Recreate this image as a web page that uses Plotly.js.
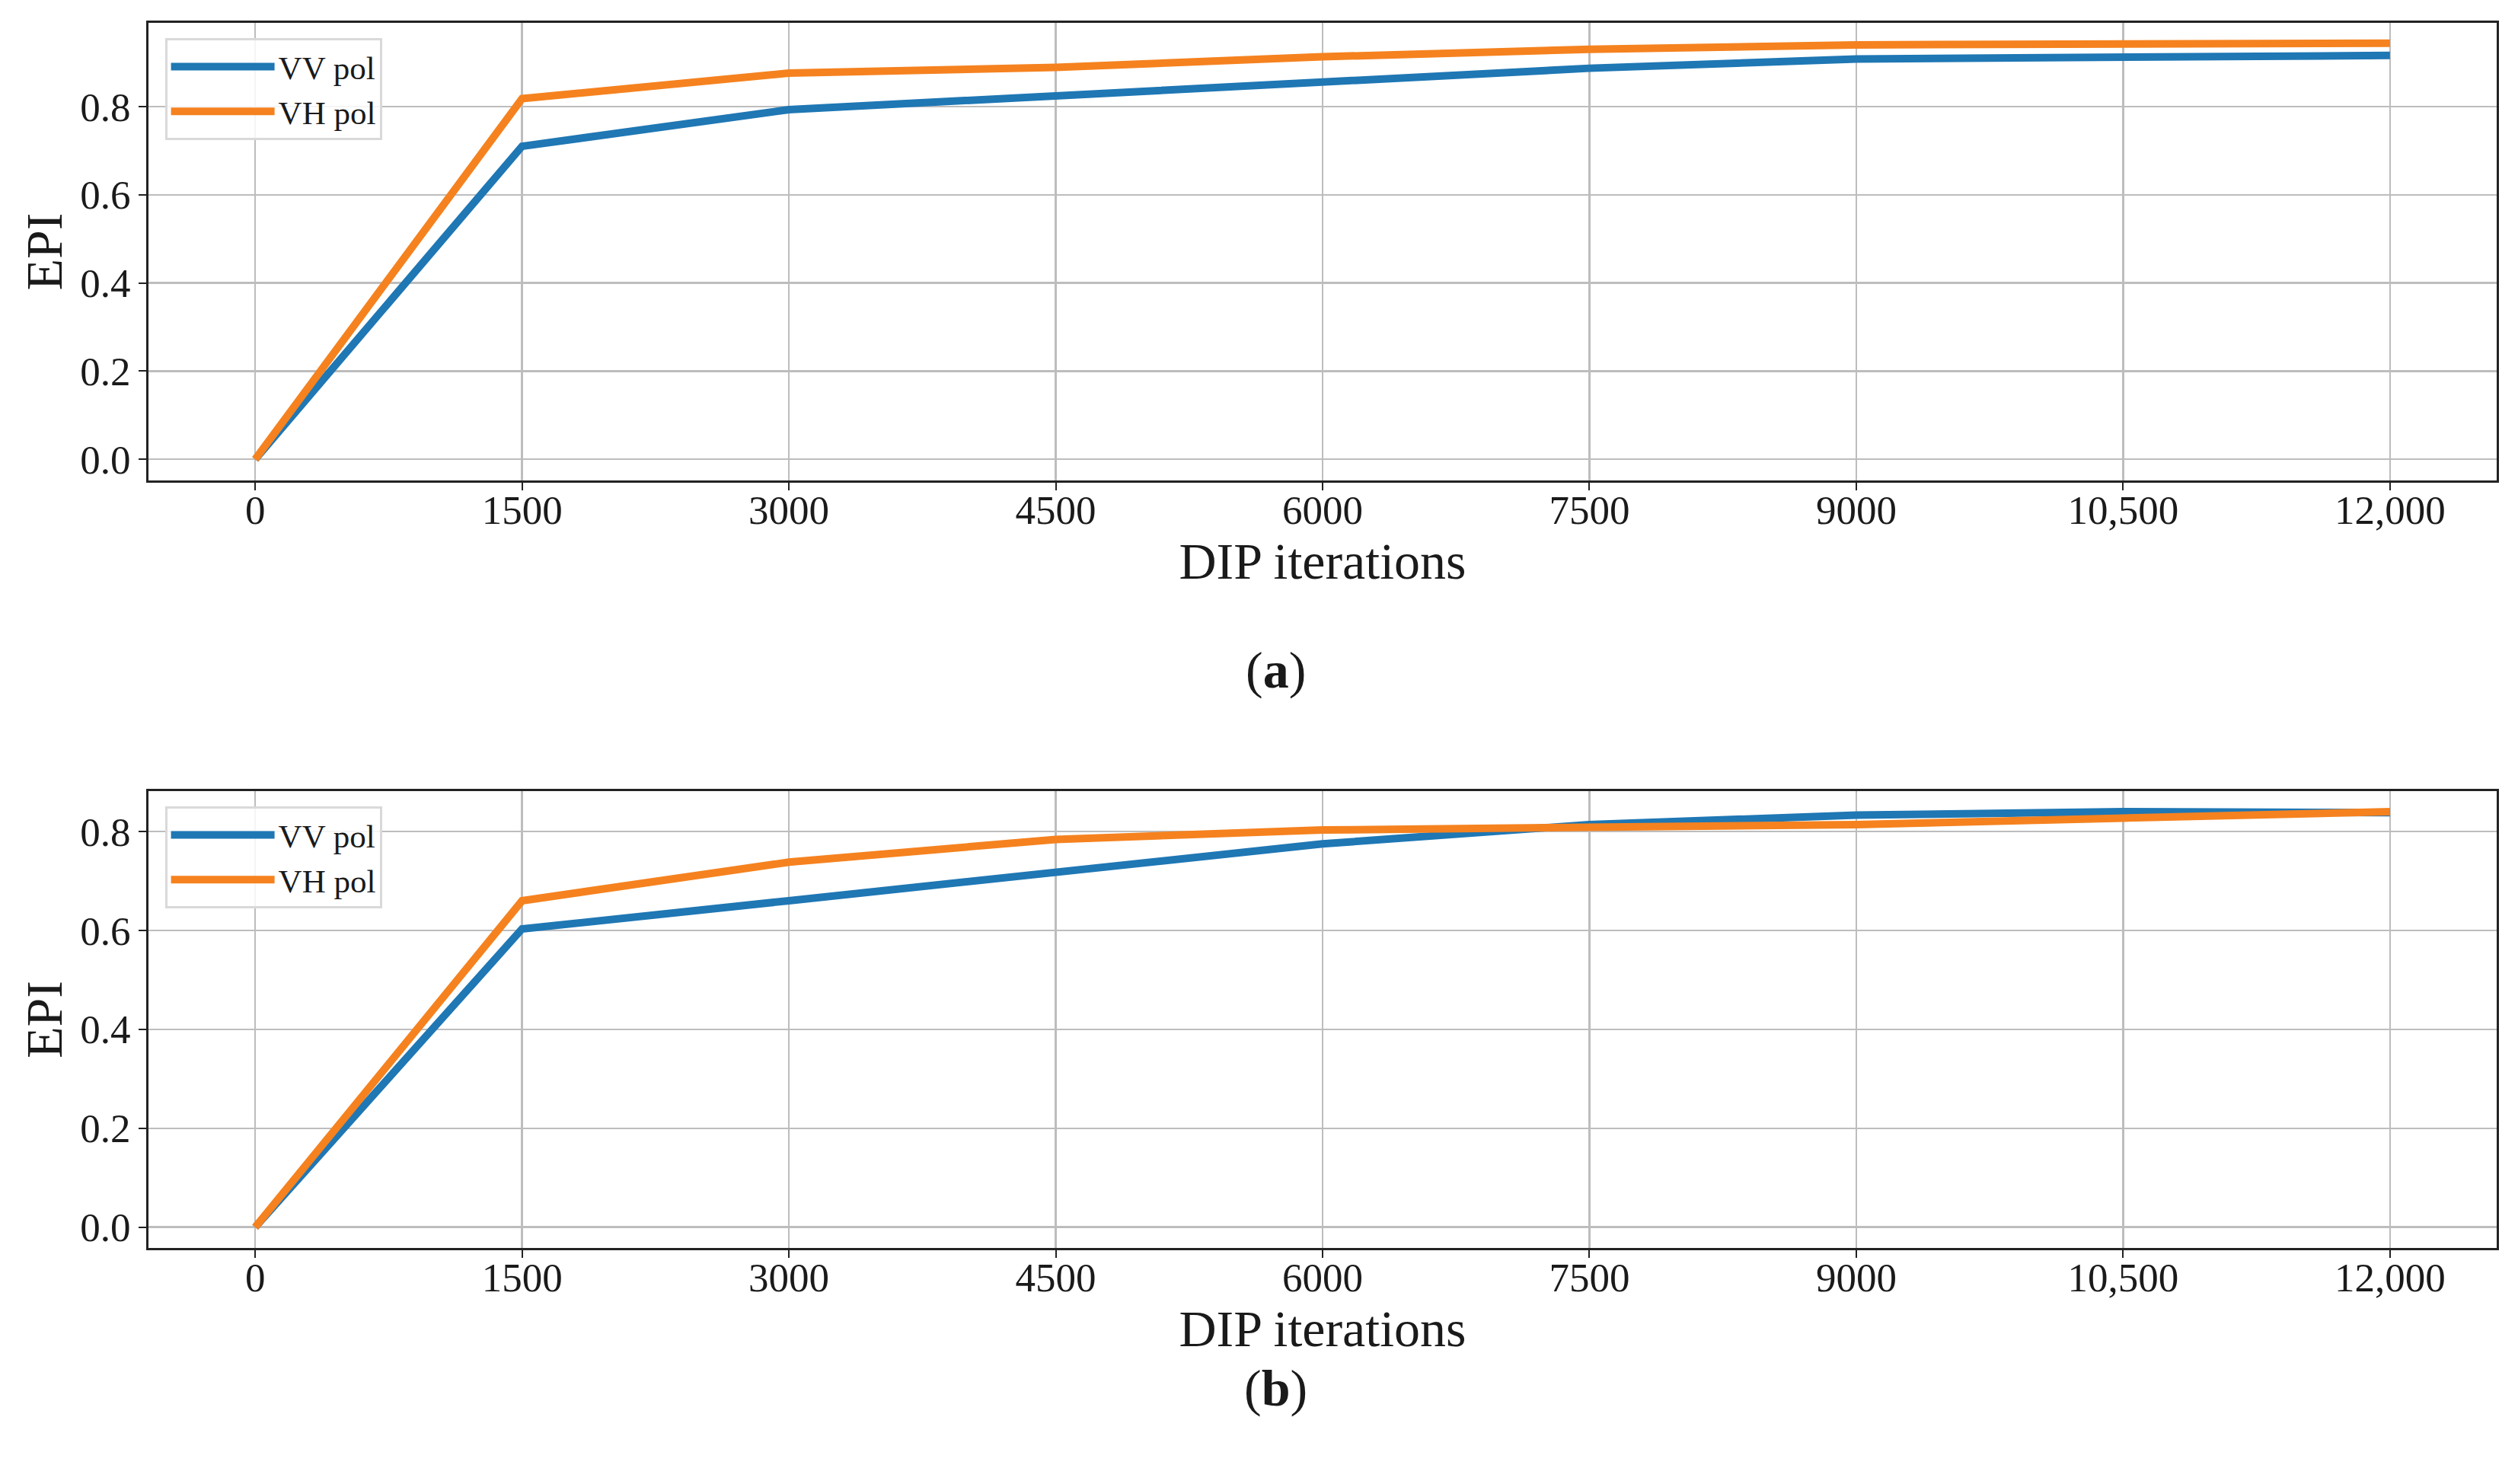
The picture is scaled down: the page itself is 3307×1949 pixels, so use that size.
<!DOCTYPE html>
<html>
<head>
<meta charset="utf-8">
<script src="https://cdn.plot.ly/plotly-3.0.1.min.js"></script>
<style>
    body { margin: 0; background: #ffffff; }
    #epiChart { width: 3307px; height: 1949px; }
</style>
</head>
<body>
<div id="epiChart"></div>
<script>
// Data
var iterations = [0, 1500, 3000, 4500, 6000, 7500, 9000, 10500, 12000];
var iterTickLabels = ["0", "1500", "3000", "4500", "6000", "7500", "9000", "10,500", "12,000"];

// panel (a)
var vvPolA = [0, 0.710, 0.793, 0.823, 0.856, 0.887, 0.908, 0.913, 0.916];
var vhPolA = [0, 0.818, 0.876, 0.889, 0.913, 0.930, 0.940, 0.942, 0.944];

// panel (b)
var vvPolB = [0, 0.603, 0.660, 0.716, 0.775, 0.814, 0.833, 0.840, 0.838];
var vhPolB = [0, 0.660, 0.738, 0.784, 0.803, 0.809, 0.814, 0.827, 0.840];

var seriesNames = ["VV pol", "VH pol"];
var panelLabels = ["(<b>a</b>)", "(<b>b</b>)"];

// Styles
var blue = "#1f77b4";
var orange = "#f5821f";
var textColor = "#1a1a1a";
var fontFamily = "Liberation Serif, Times New Roman, serif";

function makeTrace(y, name, color, xa, ya, legendId) {
    return {
        x: iterations,
        y: y,
        name: name,
        type: "scatter",
        mode: "lines",
        line: { color: color, width: 10 },
        xaxis: xa,
        yaxis: ya,
        legend: legendId
    };
}

function xAxis(anchor) {
    return {
        anchor: anchor,
        domain: [0, 1],
        range: [-600, 12600],
        tickvals: iterations,
        ticktext: iterTickLabels,
        ticks: "outside",
        ticklen: 10,
        tickwidth: 2,
        tickcolor: "#222",
        ticklabelstandoff: -20,
        tickfont: { size: 53, color: textColor },
        showline: true,
        mirror: true,
        linecolor: "#222",
        linewidth: 3,
        showgrid: true,
        gridcolor: "#bdbdbd",
        gridwidth: 2.5,
        zeroline: false,
        title: { text: "DIP iterations", font: { size: 68, color: textColor }, standoff: 10 }
    };
}

function yAxis(anchor, domain, range) {
    return {
        anchor: anchor,
        domain: domain,
        range: range,
        dtick: 0.2,
        tick0: 0,
        tickformat: ".1f",
        ticks: "outside",
        ticklen: 10,
        tickwidth: 2,
        tickcolor: "#222",
        tickfont: { size: 53, color: textColor },
        showline: true,
        mirror: true,
        linecolor: "#222",
        linewidth: 3,
        showgrid: true,
        gridcolor: "#bdbdbd",
        gridwidth: 2.5,
        zeroline: false,
        title: { text: "EPI", font: { size: 68, color: textColor }, standoff: 2 }
    };
}

function legendBox(yTop) {
    return {
        x: 0.007,
        y: yTop,
        xanchor: "left",
        yanchor: "top",
        bgcolor: "rgba(255,255,255,0.85)",
        bordercolor: "#d9d9d9",
        borderwidth: 3,
        font: { size: 43, color: textColor },
        itemwidth: 136
    };
}

function plotEpiChart() {
    var traces = [
        makeTrace(vvPolA, seriesNames[0], blue, "x", "y", "legend"),
        makeTrace(vhPolA, seriesNames[1], orange, "x", "y", "legend"),
        makeTrace(vvPolB, seriesNames[0], blue, "x2", "y2", "legend2"),
        makeTrace(vhPolB, seriesNames[1], orange, "x2", "y2", "legend2")
    ];
    var layout = {
        width: 3307,
        height: 1949,
        margin: { l: 195, r: 28, t: 30, b: 310 },
        paper_bgcolor: "#ffffff",
        plot_bgcolor: "#ffffff",
        font: { family: fontFamily, color: textColor },
        showlegend: true,
        xaxis: xAxis("y"),
        yaxis: yAxis("x", [0.6265, 1.0], [-0.048, 0.99]),
        xaxis2: xAxis("y2"),
        yaxis2: yAxis("x2", [0, 0.3729], [-0.042, 0.8816]),
        legend: legendBox(0.9876),
        legend2: legendBox(0.3605),
        annotations: [
            { text: panelLabels[0], xref: "paper", yref: "paper", x: 0.4802, y: 0.4717,
              xanchor: "center", yanchor: "middle", showarrow: false, font: { size: 68, color: textColor } },
            { text: panelLabels[1], xref: "paper", yref: "paper", x: 0.4802, y: -0.1145,
              xanchor: "center", yanchor: "middle", showarrow: false, font: { size: 68, color: textColor } }
        ]
    };
    Plotly.newPlot("epiChart", traces, layout, { displayModeBar: false, staticPlot: true });
}
plotEpiChart();
</script>
</body>
</html>
